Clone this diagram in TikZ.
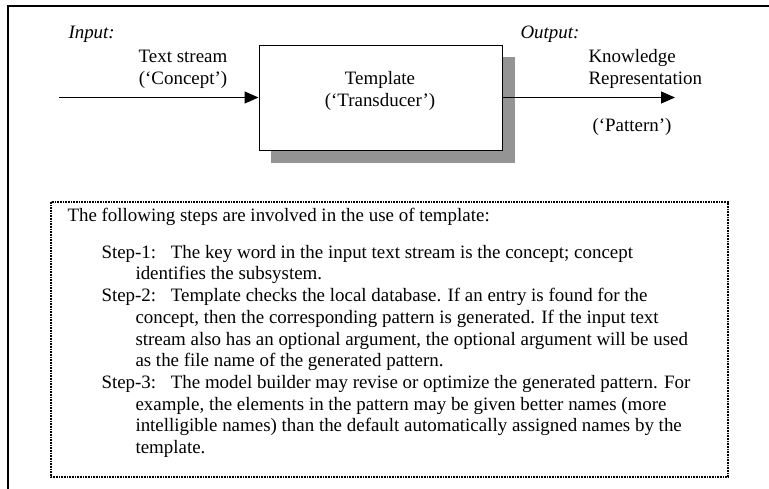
\documentclass[tikz,border=0pt]{standalone}
\usepackage{fontspec}
\setmainfont{Liberation Serif}
\usetikzlibrary{arrows.meta,backgrounds}

\tikzset{every picture/.style={line width=0.75pt}}
\newcommand{\hangin}{\hspace*{25.5pt}}
\newcommand{\steplbl}[1]{\makebox[52pt][l]{#1}}

\begin{document}
\begin{tikzpicture}[x=0.75pt,y=0.75pt,yscale=-1,xscale=1,
  txt/.style={inner sep=0pt,font=\fontsize{14.2pt}{16.3pt}\selectfont},
  tbox/.style={draw,fill=white,minimum width=182.25pt,minimum height=78.75pt,inner sep=0pt},
  shade/.style={fill=black!42},
  flow/.style={-{Triangle[length=10.5pt,width=9pt]}},
  note/.style={line width=1.2pt,dash pattern=on 1.2pt off 0.8pt}]
\useasboundingbox (0,0) rectangle (769,489);

%Outer frame
\draw [line width=1pt] (8,489) -- (8,6) -- (769,6) ;

%Template box and its shadow
\node[tbox] (tmpl) at (380.5,97.5) {};
\begin{scope}[on background layer]
\fill[shade] ([shift={(12,12)}]tmpl.north west) rectangle ([shift={(12,12)}]tmpl.south east) ;
\end{scope}

%Arrows
\coordinate (in) at (59,97.5);
\coordinate (out) at (675,97.5);
\draw [flow] (in) -- (tmpl.west) ;
\draw [flow] (tmpl.east) -- (out) ;

% Text Node
\node[txt,anchor=west] (inlbl) at (68,34) {\textit{Input:}};
% Text Node
\node[txt,align=center] (instr) at (183,69) {Text stream\\(‘Concept’)};
% Text Node
\node[txt,align=center] (tmpltxt) at (380,91) {Template\\(‘Transducer’)};
% Text Node
\node[txt,anchor=west] (outlbl) at (520,34) {\textit{Output:}};
% Text Node
\node[txt,align=left,anchor=west] (outstr) at (588,69) {Knowledge\\Representation};
% Text Node
\node[txt] (pat) at (632,127) {(‘Pattern’)};

%Dotted note box
\draw [note] (51,202) rectangle (728,477) ;

% Text Node
\node[txt,anchor=west] (head) at (67,217) {The following steps are involved in the use of template:};
% Text Node
\node[txt,align=left,anchor=north west] (s1) at (101,244.5) {\steplbl{Step-1:}The key word in the input text stream is the concept; concept\\
\hangin identifies the subsystem.};
% Text Node
\node[txt,align=left,anchor=north west] (s2) at (101,287.9) {\steplbl{Step-2:}Template checks the local database. If an entry is found for the\\
\hangin concept, then the corresponding pattern is generated. If the input text\\
\hangin stream also has an optional argument, the optional argument will be used\\
\hangin as the file name of the generated pattern.};
% Text Node
\node[txt,align=left,anchor=north west] (s3) at (101,374.7) {\steplbl{Step-3:}The model builder may revise or optimize the generated pattern. For\\
\hangin example, the elements in the pattern may be given better names (more\\
\hangin intelligible names) than the default automatically assigned names by the\\
\hangin template.};

\end{tikzpicture}
\end{document}
